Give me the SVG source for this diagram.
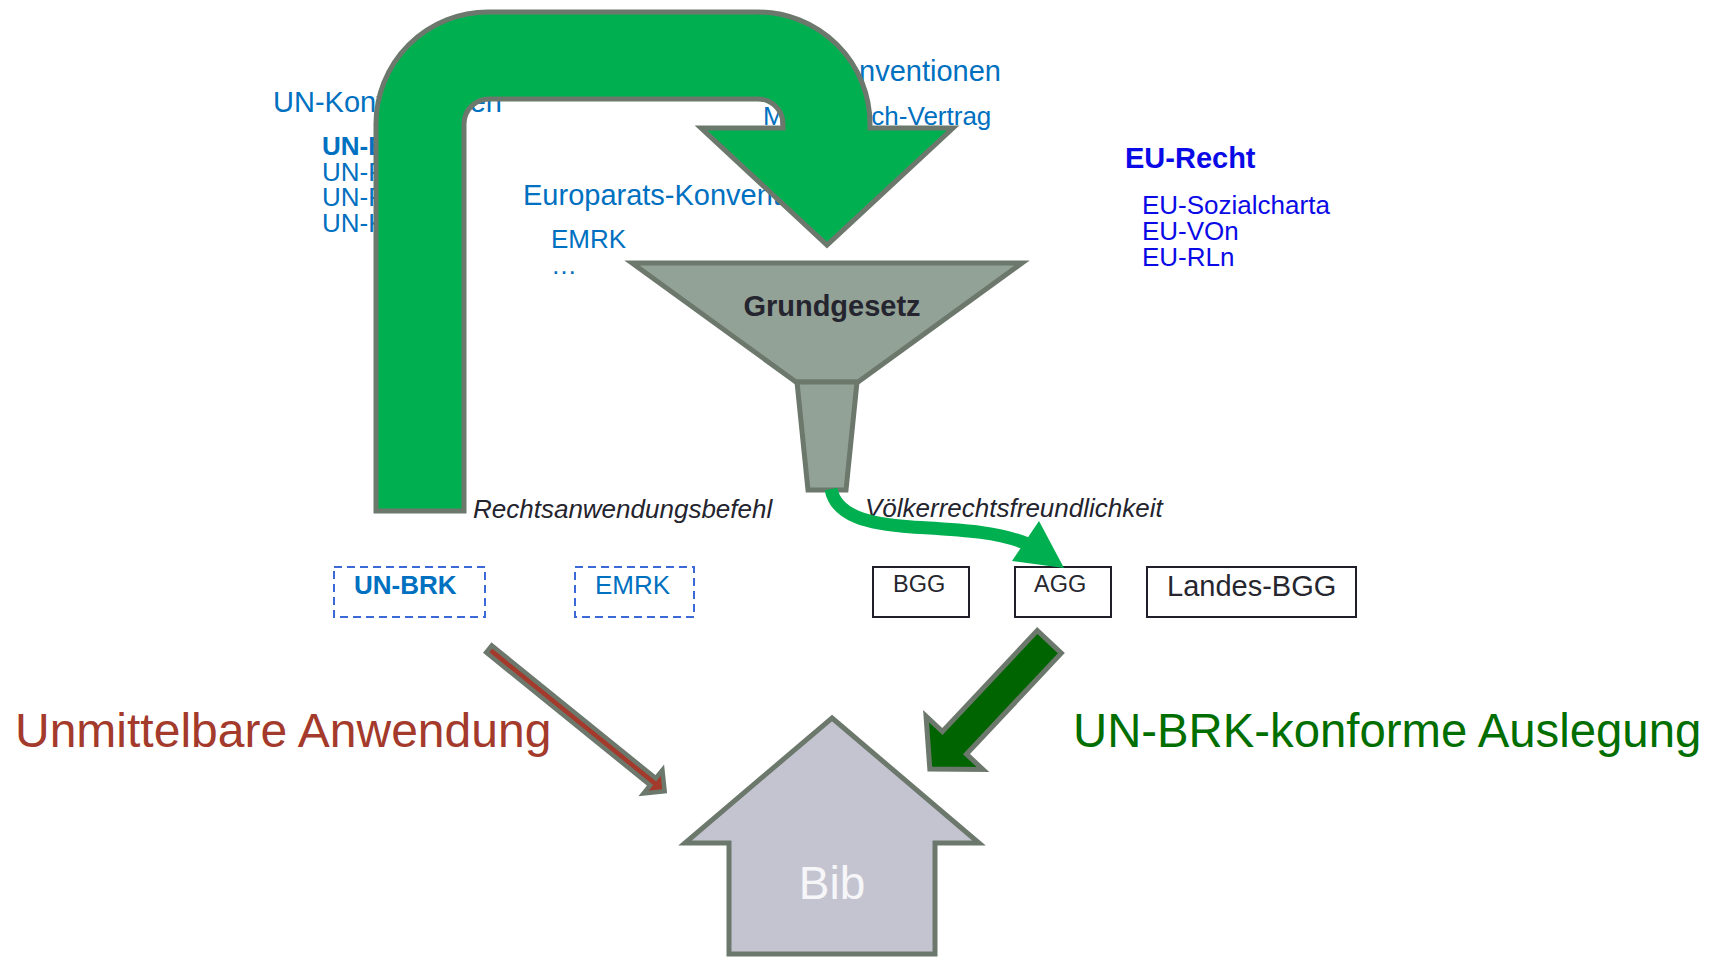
<svg xmlns="http://www.w3.org/2000/svg" width="1721" height="957" viewBox="0 0 1721 957">
<defs>
<style>
.t{font-family:"Liberation Sans",Arial,sans-serif}
.un{fill:#0070C0}
.eu{fill:#0A0AE6}
.h{font-size:29px}
.s{font-size:26px}
.b{font-weight:bold}
.it{font-style:italic;font-size:26px;fill:#24242e}
.sh{stroke:#6D786D;stroke-width:5;stroke-linejoin:miter}
.dash{fill:none;stroke:#3B69D8;stroke-width:2;stroke-dasharray:8 5}
.box{fill:#ffffff;stroke:#1f1f2a;stroke-width:2}
</style>
</defs>
<rect width="1721" height="957" fill="#ffffff"/>

<g id="un-konventionen" class="t un">
<text x="273" y="112" class="h">UN-Konventionen</text>
<text x="322" y="155" class="s b">UN-BRK</text>
<text x="322" y="181" class="s">UN-Pakt I</text>
<text x="322" y="206" class="s">UN-Pakt II</text>
<text x="322" y="232" class="s">UN-KRK</text>
</g>

<g id="wipo-konventionen" class="t un">
<text x="1001" y="81" class="h" text-anchor="end">WIPO-Konventionen</text>
<text x="763" y="125" class="s">Marrakesch-Vertrag</text>
</g>

<g id="europarats-konventionen" class="t un">
<text x="523" y="205" class="h">Europarats-Konventionen</text>
<text x="551" y="248" class="s">EMRK</text>
<text x="551" y="274" class="s">…</text>
</g>

<g id="eu-recht" class="t eu">
<text x="1125" y="168" class="h b">EU-Recht</text>
<text x="1142" y="214" class="s">EU-Sozialcharta</text>
<text x="1142" y="240" class="s">EU-VOn</text>
<text x="1142" y="266" class="s">EU-RLn</text>
</g>

<g id="grundgesetz">
<polygon class="sh" fill="#93A296" points="632,263 1022,263 858,382 796,382"/>
<polygon class="sh" fill="#93A296" points="797,382 857,382 846,490 808,490"/>
<text x="832" y="316" class="t b" font-size="29" fill="#25252f" text-anchor="middle">Grundgesetz</text>
</g>

<g id="label-rechtsanwendungsbefehl" class="t">
<text x="473" y="518" class="it">Rechtsanwendungsbefehl</text>
</g>
<g id="label-voelkerrechtsfreundlichkeit" class="t">
<text x="865" y="517" class="it">Völkerrechtsfreundlichkeit</text>
</g>

<g id="box-unbrk">
<rect class="dash" x="334" y="567" width="151" height="50"/>
<text x="354" y="594" class="t un s b">UN-BRK</text>
</g>
<g id="box-emrk">
<rect class="dash" x="575" y="567" width="119" height="50"/>
<text x="595" y="594" class="t un s">EMRK</text>
</g>
<g id="box-bgg">
<rect class="box" x="873" y="567" width="96" height="50"/>
<text x="893" y="592" class="t" font-size="23.5" fill="#26262e">BGG</text>
</g>
<g id="box-agg">
<rect class="box" x="1015" y="567" width="96" height="50"/>
<text x="1034" y="592" class="t" font-size="23.5" fill="#26262e">AGG</text>
</g>
<g id="box-landes-bgg">
<rect class="box" x="1147" y="567" width="209" height="50"/>
<text x="1167" y="596" class="t" font-size="29" fill="#26262e">Landes-BGG</text>
</g>

<g id="label-unmittelbar">
<text x="15" y="747" class="t" font-size="48" fill="#A33A2B">Unmittelbare Anwendung</text>
</g>
<g id="label-konform">
<text x="1073" y="747" class="t" font-size="47.3" fill="#006E00">UN-BRK-konforme Auslegung</text>
</g>

<g id="bib">
<polygon class="sh" fill="#C4C4D1" points="832,718 979,843 935,843 935,954 729,954 729,843 685,843"/>
<text x="832" y="899" class="t" font-size="46" fill="#F6F6F9" text-anchor="middle">Bib</text>
</g>

<g id="connectors">
<path id="uturn" class="sh" fill="#00B050" d="M 376 511 L 376 124 A 112 112 0 0 1 488 12 L 758 12 A 112 112 0 0 1 870 124 L 870 128 L 953 128 L 827 245 L 701 128 L 783 128 L 783 124 A 25 25 0 0 0 758 99 L 489 99 A 25 25 0 0 0 464 124 L 464 511 Z"/>
<path id="curve" d="M 831 489 C 836 516, 868 524, 912 527 C 960 530, 995 531, 1028 544" fill="none" stroke="#00B050" stroke-width="13"/>
<polygon fill="#00B050" points="1039,521 1012,561 1064,568"/>
<g transform="translate(489 649) rotate(39)">
<polygon fill="#A33A2B" stroke="#6D786D" stroke-width="4.5" points="0,-4.5 211,-4.5 211,-15 226,0 211,15 211,4.5 0,4.5"/>
</g>
<g transform="translate(1051 640) rotate(133.2)">
<polygon class="sh" fill="#006400" points="2.5,-16.5 141,-16.5 141,-39 177,0 141,39 141,16.5 2.5,16.5"/>
</g>
</g>
</svg>
